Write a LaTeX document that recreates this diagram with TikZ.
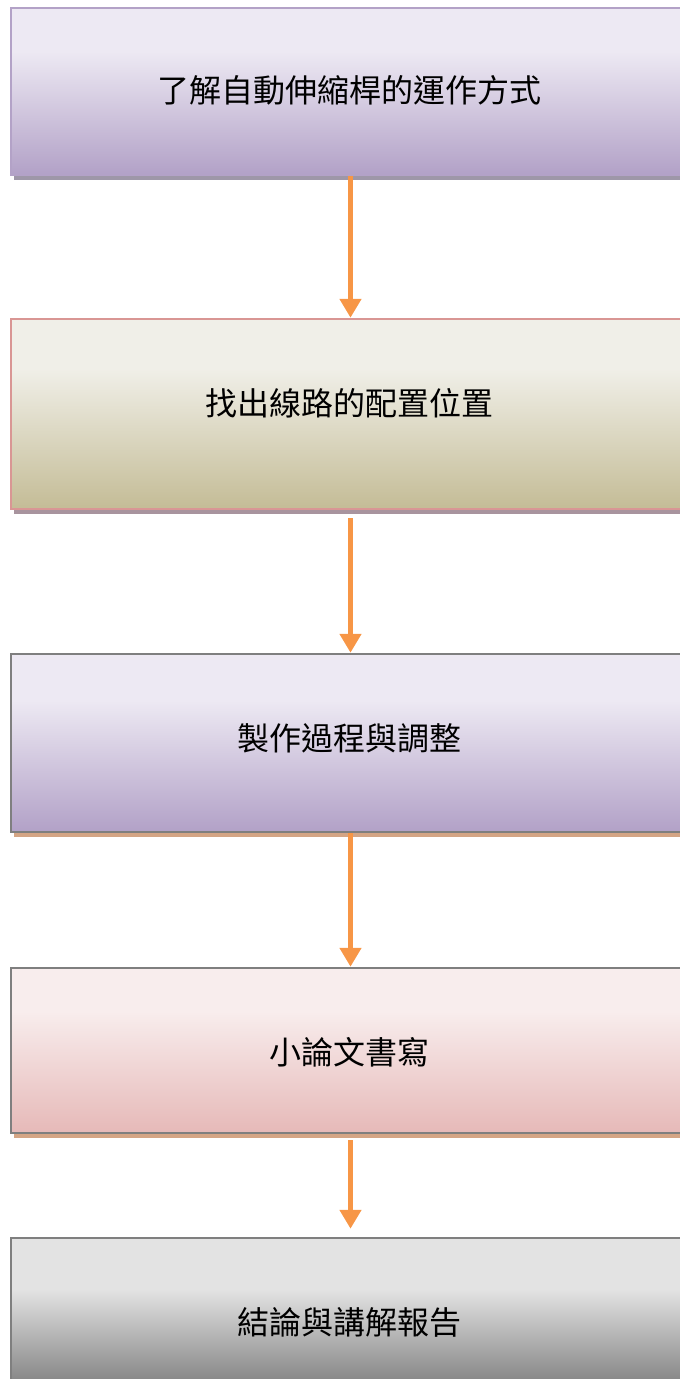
\documentclass[tikz,border=0pt]{standalone}
\usepackage{fontspec}
\newfontfamily\cjk{Noto Sans CJK TC}
\usetikzlibrary{positioning,arrows.meta,shadows}
\definecolor{lilacT}{HTML}{EDE9F3}
\definecolor{lilacB}{HTML}{B2A1C7}
\definecolor{lilacLine}{HTML}{B3A2C7}
\definecolor{oliveT}{HTML}{F0EFE8}
\definecolor{oliveB}{HTML}{C4BC96}
\definecolor{roseT}{HTML}{F8EDED}
\definecolor{roseB}{HTML}{E6B9B8}
\definecolor{roseLine}{HTML}{D99694}
\definecolor{greyT}{HTML}{E3E3E3}
\definecolor{greyB}{HTML}{808080}
\definecolor{greyLine}{HTML}{7F7F7F}
\definecolor{flowOrange}{HTML}{F79646}
\definecolor{shadeA}{HTML}{9E97A8}
\definecolor{shadeB}{HTML}{A8949E}
\definecolor{shadeC}{HTML}{D4A585}
% office style gradients (bottom to top)
\pgfdeclareverticalshading{lilacfade}{100bp}{color(0bp)=(lilacB); color(25bp)=(lilacB); color(62bp)=(lilacT); color(100bp)=(lilacT)}
\pgfdeclareverticalshading{olivefade}{100bp}{color(0bp)=(oliveB); color(25bp)=(oliveB); color(62bp)=(oliveT); color(100bp)=(oliveT)}
\pgfdeclareverticalshading{rosefade}{100bp}{color(0bp)=(roseB); color(25bp)=(roseB); color(62bp)=(roseT); color(100bp)=(roseT)}
\pgfdeclareverticalshading{greyfade}{100bp}{color(0bp)=(greyB); color(25bp)=(greyB); color(58bp)=(greyT); color(100bp)=(greyT)}
\begin{document}
\begin{tikzpicture}[x=1pt, y=-1pt, line join=miter, font=\cjk\fontsize{32}{38}\selectfont]
  \tikzset{stagebox/.style={draw=greyLine, line width=2.5pt, minimum width=679pt, inner sep=0pt, rectangle},
    boxshadow/.style={drop shadow={shadow xshift=3pt, shadow yshift=-5pt, fill=#1, opacity=1}},
    flow/.style={draw=flowOrange, line width=5pt, -{Triangle[width=21pt,length=19pt]}}}
  \useasboundingbox (0,0) rectangle (680,1379);
  % stages
  \node[stagebox, draw=lilacLine, shading=lilacfade, minimum height=167pt, boxshadow=shadeA] (b1) at (350.5,91.5) {};
  \node[stagebox, draw=roseLine, shading=olivefade, minimum height=190pt, boxshadow=shadeB] (b2) at (350.5,414) {};
  \node[stagebox, shading=lilacfade, minimum height=178pt, boxshadow=shadeC] (b3) at (350.5,743) {};
  \node[stagebox, shading=rosefade, minimum height=165pt, boxshadow=shadeC] (b4) at (350.5,1050.5) {};
  \node[stagebox, shading=greyfade, minimum height=150pt] (b5) at (350.5,1313) {};
  % labels
  \node (t1) at (349,90) {了解自動伸縮桿的運作方式};
  \node (t2) at (349,403) {找出線路的配置位置};
  \node (t3) at (349,738) {製作過程與調整};
  \node (t4) at (349,1052) {小論文書寫};
  \node (t5) at (349,1322) {結論與講解報告};
  % arrows
  \draw[flow] (b1.south) -- (b2.north);
  \draw[flow, shorten <=8pt] (b2.south) -- (b3.north);
  \draw[flow] (b3.south) -- (b4.north);
  \draw[flow, shorten <=6pt, shorten >=8pt] (b4.south) -- (b5.north);
\end{tikzpicture}
\end{document}
